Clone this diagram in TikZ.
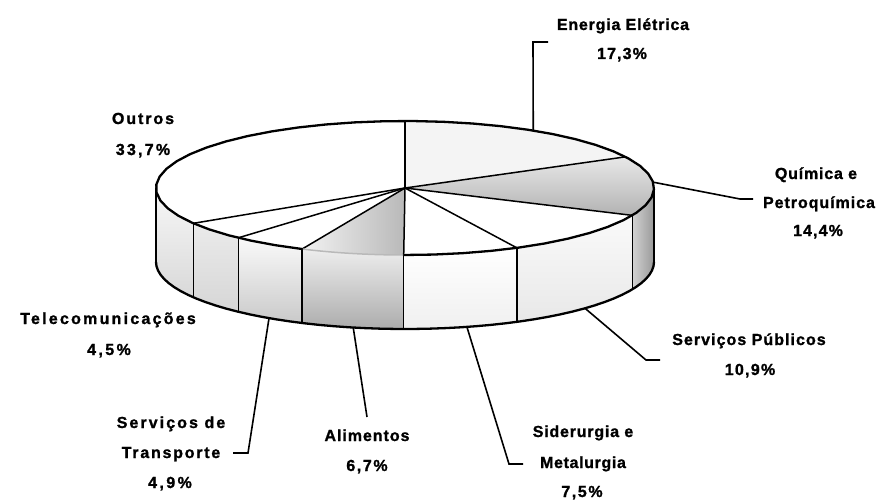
\documentclass[tikz,border=0pt]{standalone}
\usepackage{fontspec}
\setmainfont{Liberation Sans}
\newcommand\lsp[2]{\fontspec{Liberation Sans}[UprightFont={* Bold},FakeBold=1.2,LetterSpace=#1]#2}
\def\cx{405}\def\cy{188}\def\rx{249}\def\ry{67}\def\dep{74}
\tikzset{
  tp/.style 2 args={insert path={plot[domain=#1:#2,samples=50,variable=\ang] ({\cx+\rx*cos(\ang)},{\cy-\ry*sin(\ang)})}},
  ltp/.style 2 args={insert path={-- plot[domain=#1:#2,samples=50,variable=\ang] ({\cx+\rx*cos(\ang)},{\cy-\ry*sin(\ang)})}},
  bp/.style 2 args={insert path={plot[domain=#1:#2,samples=50,variable=\ang] ({\cx+\rx*cos(\ang)},{\cy-\ry*sin(\ang)+\dep})}},
  lbp/.style 2 args={insert path={-- plot[domain=#1:#2,samples=50,variable=\ang] ({\cx+\rx*cos(\ang)},{\cy-\ry*sin(\ang)+\dep})}}
}
\begin{document}
\begin{tikzpicture}[x=1pt,y=-1pt,
  lab/.style={font={\fontsize{16}{20}\selectfont}, anchor=base, inner sep=0pt},
  rim/.style={line width=2.3pt, line join=round, line cap=round},
  edge/.style={line width=1.5pt, line cap=round},
  lead/.style={line width=1.6pt, line join=miter}]
\useasboundingbox[fill=white] (0,0) rectangle (880,500);
% key points
\coordinate (C) at (\cx,\cy);
\foreach \n/\a in {A0/90,A1/27.7,A2/-24.1,A3/-63.3,A4/-90.3,A5/-114.4,A6/-132,A7/-148.2,L/-180,R/0}{
  \coordinate (t\n) at ({\cx+\rx*cos(\a)},{\cy-\ry*sin(\a)});
  \coordinate (b\n) at ({\cx+\rx*cos(\a)},{\cy-\ry*sin(\a)+\dep});
}
% side faces
\shade[top color=gray!6,bottom color=gray!30] [tp={-180}{-148.2}] [lbp={-148.2}{-180}] -- cycle;
\shade[top color=gray!16,bottom color=gray!32] [tp={-148.2}{-132}] [lbp={-132}{-148.2}] -- cycle;
\shade[top color=gray!4,bottom color=gray!42] [tp={-132}{-114.4}] [lbp={-114.4}{-132}] -- cycle;
\shade[top color=gray!14,bottom color=gray!65] [tp={-114.4}{-90.3}] [lbp={-90.3}{-114.4}] -- cycle;
\shade[top color=white,bottom color=gray!12] [tp={-90.3}{-63.3}] [lbp={-63.3}{-90.3}] -- cycle;
\shade[top color=gray!4,bottom color=gray!18] [tp={-63.3}{-24.1}] [lbp={-24.1}{-63.3}] -- cycle;
\shade[left color=gray!35,right color=gray!80] [tp={-24.1}{0}] [lbp={0}{-24.1}] -- cycle;
% top wedges
\fill[white] (C) [ltp={90}{211.8}] -- cycle;
\fill[gray!9] (C) [ltp={27.7}{90}] -- cycle;
\shade[top color=gray!18,bottom color=gray!60] (C) [ltp={-24.1}{27.7}] -- cycle;
\fill[white] (C) [ltp={-90.3}{-24.1}] -- cycle;
\shade[left color=gray!10,right color=gray!55] (C) [ltp={-114.4}{-90.3}] -- cycle;
\fill[white] (C) [ltp={-148.2}{-114.4}] -- cycle;
% side boundaries
\foreach \n in {A2,A3,A4,A5,A6,A7}{\draw[edge] (t\n) -- (b\n);}
% radial lines
\foreach \n in {A0,A1,A2,A3,A4,A5,A6,A7}{\draw[edge] (C) -- (t\n);}
% outline
\draw[edge,gray!55] [tp={-114.4}{-90.3}];
\draw[rim] [tp={-90.3}{245.6}];
\draw[rim] (tL) -- (bL);
\draw[rim] (tR) -- (bR);
\draw[rim] [bp={-180}{0}];
% connector anchor points
\coordinate (eP) at ({\cx+\rx*cos(59)},{\cy-\ry*sin(59)});
\coordinate (eK) at (533,42); \coordinate (eE) at (548,42);
\coordinate (qP) at ({\cx+\rx*cos(5)},{\cy-\ry*sin(5)});
\coordinate (qK) at (740,199); \coordinate (qE) at (753,199);
\coordinate (sP) at ({\cx+\rx*cos(-43.7)},{\cy-\ry*sin(-43.7)+\dep});
\coordinate (sK) at (646,360); \coordinate (sE) at (660,360);
\coordinate (dP) at ({\cx+\rx*cos(-75.6)},{\cy-\ry*sin(-75.6)+\dep});
\coordinate (dK) at (509,464); \coordinate (dE) at (523,464);
\coordinate (aP) at ({\cx+\rx*cos(-102)},{\cy-\ry*sin(-102)+\dep});
\coordinate (aE) at (367,417);
\coordinate (rP) at ({\cx+\rx*cos(-123.1)},{\cy-\ry*sin(-123.1)+\dep});
\coordinate (rK) at (248,453); \coordinate (rE) at (233,453);
\draw[lead] (eP) -- (eK) -- (eE);
\draw[lead] (qP) -- (qK) -- (qE);
\draw[lead] (sP) -- (sK) -- (sE);
\draw[lead] (dP) -- (dK) -- (dE);
\draw[lead] (aP) -- (aE);
\draw[lead] (rP) -- (rK) -- (rE);
% labels
\node[lab] (e1) at (623,30) {\lsp{5}{Energia Elétrica}};
\node[lab] (e2) at (622,59) {\lsp{7}{17,3\%}};
\node[lab] (q1) at (816,179) {\lsp{5}{Química e}};
\node[lab] (q2) at (819,208) {\lsp{6}{Petroquímica}};
\node[lab] (q3) at (818,236) {\lsp{7}{14,4\%}};
\node[lab] (o1) at (143,124) {\lsp{12}{Outros}};
\node[lab] (o2) at (143,155) {\lsp{14}{33,7\%}};
\node[lab] (c1) at (108,324) {\lsp{14}{Telecomunicações}};
\node[lab] (c2) at (109,355) {\lsp{15}{4,5\%}};
\node[lab] (r1) at (171,428) {\lsp{13}{Serviços de}};
\node[lab] (r2) at (171,458) {\lsp{11}{Transporte}};
\node[lab] (r3) at (170,488) {\lsp{15}{4,9\%}};
\node[lab] (a1) at (367,441) {\lsp{6}{Alimentos}};
\node[lab] (a2) at (367,471) {\lsp{10}{6,7\%}};
\node[lab] (m1) at (583,437) {\lsp{5}{Siderurgia e}};
\node[lab] (m2) at (583,468) {\lsp{4}{Metalurgia}};
\node[lab] (m3) at (582,497) {\lsp{10}{7,5\%}};
\node[lab] (p1) at (749,345) {\lsp{6.5}{Serviços Públicos}};
\node[lab] (p2) at (750,375) {\lsp{8}{10,9\%}};
\end{tikzpicture}
\end{document}
